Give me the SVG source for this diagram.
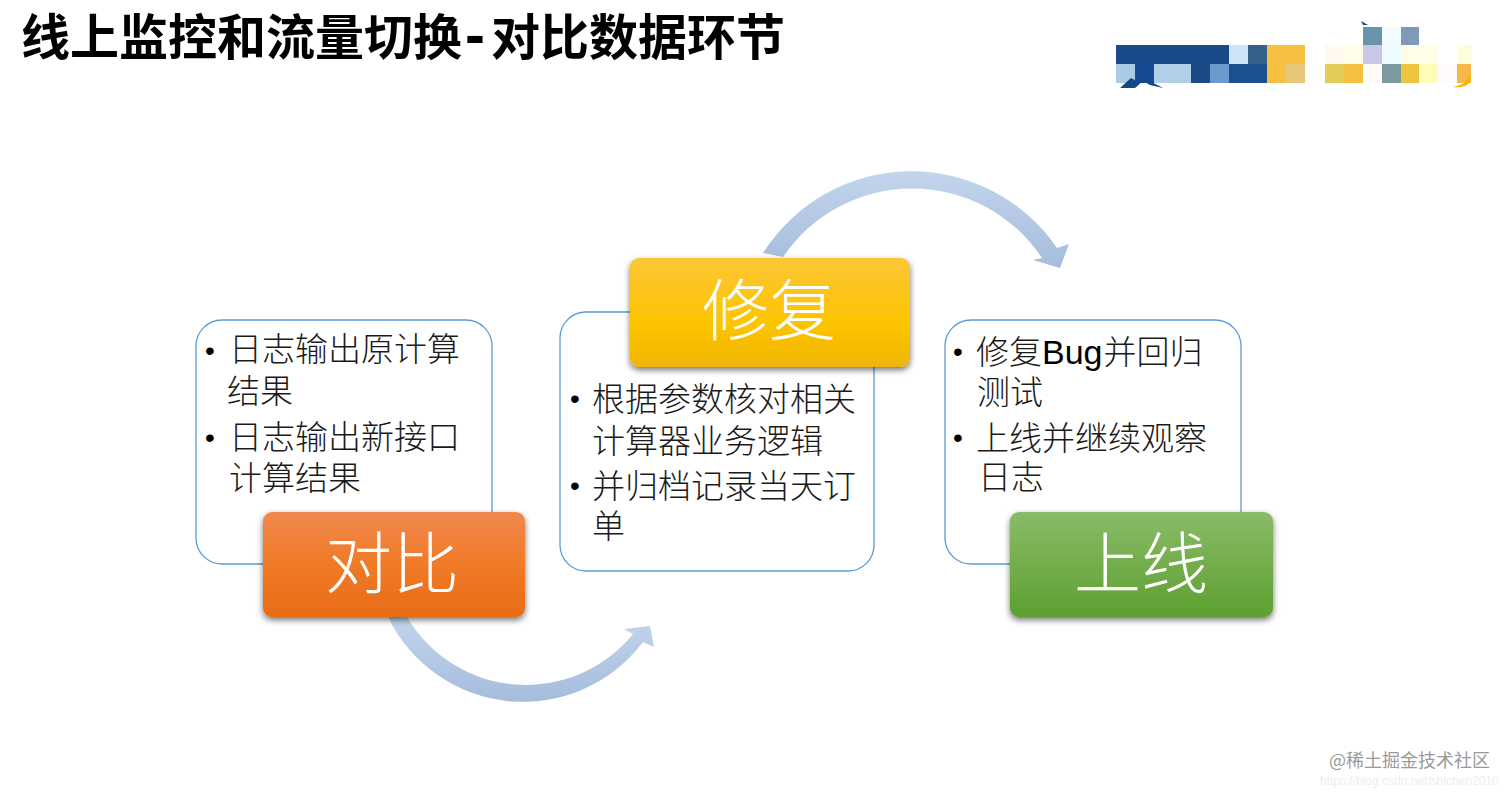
<svg xmlns="http://www.w3.org/2000/svg" width="1512" height="794" viewBox="0 0 1512 794">
<style>
.cjk{font-family:"Noto Sans CJK SC","Noto Sans",sans-serif}
.title{font-size:49px;font-weight:700;fill:#000}
.hy{font-family:"Liberation Sans",sans-serif;font-size:60px;font-weight:700}
.body{font-size:33px;font-weight:300;fill:#1a1a1a}
.lat{font-family:"Liberation Sans",sans-serif;font-size:34px;font-weight:400;fill:#000}
.dot{font-family:"Liberation Sans",sans-serif;font-size:28px;fill:#000}
.head{font-size:67px;font-weight:300;fill:#fff;text-anchor:middle}
.card{fill:#fff;stroke:#5b9bd5;stroke-width:1.3}
.arrow{fill:url(#arrowFill)}
.wm{font-size:18px;fill:#9a9a9a}
.wm2{font-family:"Liberation Sans",sans-serif;font-size:12px;fill:#eeeeee}
</style>
<defs>
<linearGradient id="arrowFill" x1="0" y1="0" x2="0" y2="1"><stop offset="0" stop-color="#c3d5ec"/><stop offset="1" stop-color="#a5bcdc"/></linearGradient>
<linearGradient id="orange" x1="0" y1="0" x2="0" y2="1"><stop offset="0" stop-color="#f0894e"/><stop offset=".5" stop-color="#f07a28"/><stop offset="1" stop-color="#e96c17"/></linearGradient>
<linearGradient id="yellow" x1="0" y1="0" x2="0" y2="1"><stop offset="0" stop-color="#fdc636"/><stop offset=".6" stop-color="#fdc400"/><stop offset="1" stop-color="#eeb508"/></linearGradient>
<linearGradient id="green" x1="0" y1="0" x2="0" y2="1"><stop offset="0" stop-color="#8abb68"/><stop offset="1" stop-color="#5da02f"/></linearGradient>
<filter id="sh" x="-5%" y="-10%" width="110%" height="125%"><feDropShadow dx="0" dy="3" stdDeviation="3" flood-color="#000" flood-opacity=".55"/></filter>
</defs>
<rect width="1512" height="794" fill="#fff"/>
<text class="cjk title" x="21" y="55">线上监控和流量切换<tspan class="hy" dx="3">-</tspan><tspan dx="6">对比数据环节</tspan></text>
<g id="logo" shape-rendering="crispEdges">
<rect x="1116" y="45" width="113" height="19" fill="#1a4a8a"/><rect x="1229" y="45" width="19" height="19" fill="#d0e4f7"/><rect x="1248" y="45" width="19" height="19" fill="#34608a"/><rect x="1267" y="45" width="38" height="19" fill="#f8c040"/>
<rect x="1116" y="64" width="19" height="19" fill="#a9cbe6"/><rect x="1135" y="64" width="19" height="19" fill="#184a94"/><rect x="1154" y="64" width="37" height="19" fill="#b0d0e8"/><rect x="1191" y="64" width="19" height="19" fill="#1a4a88"/><rect x="1210" y="64" width="19" height="19" fill="#6a9bcc"/><rect x="1229" y="64" width="38" height="19" fill="#1c5090"/><rect x="1267" y="64" width="19" height="19" fill="#f8c040"/><rect x="1286" y="64" width="19" height="19" fill="#e8c878"/>
<rect x="1363" y="27" width="19" height="18" fill="#6a93ac"/><rect x="1382" y="27" width="19" height="18" fill="#f0fcff"/><rect x="1401" y="27" width="18" height="18" fill="#7f9ab8"/>
<rect x="1325" y="45" width="19" height="19" fill="#fff9ee"/><rect x="1344" y="45" width="19" height="19" fill="#fffde8"/><rect x="1363" y="45" width="19" height="19" fill="#c8c8e4"/><rect x="1382" y="45" width="19" height="19" fill="#effcff"/><rect x="1401" y="45" width="37" height="19" fill="#fffde8"/><rect x="1457" y="45" width="15" height="19" fill="#fdfdde"/>
<rect x="1325" y="64" width="19" height="19" fill="#e4cc58"/><rect x="1344" y="64" width="19" height="19" fill="#f4c040"/><rect x="1363" y="64" width="19" height="19" fill="#fffafa"/><rect x="1382" y="64" width="19" height="19" fill="#7a9aa0"/><rect x="1401" y="64" width="18" height="19" fill="#ecc440"/><rect x="1419" y="64" width="19" height="19" fill="#fffbb8"/><rect x="1438" y="64" width="19" height="19" fill="#fffafc"/><rect x="1457" y="64" width="14" height="19" fill="#f8b848"/>
</g>
<g id="logo-bits">
<path d="M1120,88L1131,78L1138,82L1144,78L1163,88L1150,85L1143,81L1135,88Z" fill="#0f4a84"/>
<path d="M1361,21L1368,25L1363,25Z" fill="#0f4a84"/>
<path d="M1453,87Q1467,85 1471,73Q1472,84 1465,86Q1458,88 1453,87Z" fill="#f5b400"/>
</g>
<g id="connectors">
<path class="arrow" d="M388,617A150,150 0 0 0 643,642L654,647L650,626L624,629L633,634A138,138 0 0 1 407,617Z"/>
<path class="arrow" d="M763,253A176,176 0 0 1 1057,248L1069,244L1060,268L1033,260L1042,258A156,156 0 0 0 783,257Z"/>
</g>
<g id="node-duibi">
<rect class="card" x="196" y="320" width="296" height="244" rx="26"/>
<text class="dot" x="205" y="360">•</text><text class="cjk body" x="229" y="361">日志输出原计算</text>
<text class="cjk body" x="227" y="403">结果</text>
<text class="dot" x="205" y="447">•</text><text class="cjk body" x="229" y="449">日志输出新接口</text>
<text class="cjk body" x="229" y="490">计算结果</text>
<rect x="263" y="512" width="262" height="105" rx="9" fill="url(#orange)" filter="url(#sh)"/>
<text class="cjk head" x="392" y="588">对比</text>
</g>
<g id="node-xiufu">
<rect class="card" x="560" y="312" width="314" height="259" rx="26"/>
<rect x="630" y="258" width="280" height="109" rx="9" fill="url(#yellow)" filter="url(#sh)"/>
<text class="cjk head" x="769" y="335">修复</text>
<text class="dot" x="570" y="408">•</text><text class="cjk body" x="592" y="411">根据参数核对相关</text>
<text class="cjk body" x="592" y="453">计算器业务逻辑</text>
<text class="dot" x="570" y="495">•</text><text class="cjk body" x="592" y="498">并归档记录当天订</text>
<text class="cjk body" x="592" y="538">单</text>
</g>
<g id="node-shangxian">
<rect class="card" x="945" y="320" width="296" height="244" rx="26"/>
<text class="dot" x="953" y="361">•</text><text class="cjk body" x="976" y="364">修复<tspan class="lat">Bug</tspan><tspan dx="1">并回归</tspan></text>
<text class="cjk body" x="977" y="404">测试</text>
<text class="dot" x="953" y="447">•</text><text class="cjk body" x="976" y="450">上线并继续观察</text>
<text class="cjk body" x="978" y="489">日志</text>
<rect x="1010" y="512" width="263" height="105" rx="9" fill="url(#green)" filter="url(#sh)"/>
<text class="cjk head" x="1141" y="588">上线</text>
</g>
<g id="watermark">
<text class="cjk wm" x="1329" y="767">@稀土掘金技术社区</text>
<text class="wm2" x="1320" y="785">https://blog.csdn.net/shichen2010</text>
</g>
</svg>
